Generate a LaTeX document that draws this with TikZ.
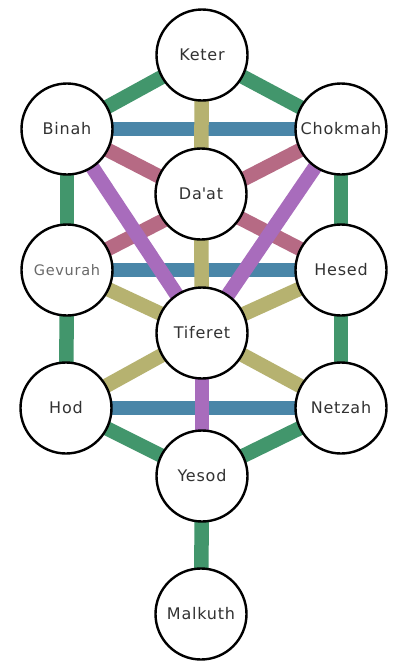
\documentclass[tikz,border=0pt]{standalone}
\usepackage{fontspec}
\setmainfont{DejaVu Sans}[LetterSpace=5]
\usetikzlibrary{backgrounds}
\definecolor{pgreen}{RGB}{66,150,108}
\definecolor{pblue}{RGB}{74,134,168}
\definecolor{polive}{RGB}{182,178,112}
\definecolor{ppink}{RGB}{182,106,132}
\definecolor{ppurple}{RGB}{168,108,188}
\definecolor{ptext}{RGB}{50,50,50}
\definecolor{plight}{RGB}{105,105,105}
\tikzset{
  sephira/.style={circle, draw=black, line width=2.4pt, fill=white, minimum size=91pt, inner sep=0pt, text=ptext, font=\fontsize{16}{16}\selectfont},
  lighttext/.style={text=plight, font=\fontsize{14.5}{14.5}\selectfont},
  pathbase/.style={line width=14.5pt},
  gpath/.style={pathbase, draw=pgreen},
  bpath/.style={pathbase, draw=pblue},
  opath/.style={pathbase, draw=polive},
  kpath/.style={pathbase, draw=ppink},
  vpath/.style={pathbase, draw=ppurple},
}
\begin{document}
\begin{tikzpicture}[x=1pt,y=-1pt]
\useasboundingbox (0,0) rectangle (397,662);
\node[sephira] (keter) at (202,55) {Keter};
\node[sephira] (binah) at (67,129) {Binah};
\node[sephira] (chokmah) at (341,129) {Chokmah};
\node[sephira] (daat) at (201,194) {Da\textquotesingle at};
\node[sephira, lighttext] (gevurah) at (67,270) {Gevurah};
\node[sephira] (hesed) at (341,270) {Hesed};
\node[sephira] (tiferet) at (202,333) {Tiferet};
\node[sephira] (hod) at (66,408) {Hod};
\node[sephira] (netzah) at (341,408) {Netzah};
\node[sephira] (yesod) at (202,476) {Yesod};
\node[sephira] (malkuth) at (201,614) {Malkuth};
\begin{scope}[on background layer]
  \fill[white] (0,0) rectangle (397,662);
  \draw[bpath] (binah.center) -- (chokmah.center);
  \draw[bpath] (gevurah.center) -- (hesed.center);
  \draw[bpath] (hod.center) -- (netzah.center);
  \draw[gpath] (keter.center) -- (binah.center);
  \draw[gpath] (keter.center) -- (chokmah.center);
  \draw[gpath] (binah.center) -- (gevurah.center);
  \draw[gpath] (chokmah.center) -- (hesed.center);
  \draw[gpath] (gevurah.center) -- (hod.center);
  \draw[gpath] (hesed.center) -- (netzah.center);
  \draw[gpath] (hod.center) -- (yesod.center);
  \draw[gpath] (netzah.center) -- (yesod.center);
  \draw[gpath] (yesod.center) -- (malkuth.center);
  \draw[kpath] (binah.center) -- (hesed.center);
  \draw[kpath] (chokmah.center) -- (gevurah.center);
  \draw[opath] (keter.center) -- (daat.center);
  \draw[opath] (daat.center) -- (tiferet.center);
  \draw[opath] (gevurah.center) -- (tiferet.center);
  \draw[opath] (hesed.center) -- (tiferet.center);
  \draw[opath] (tiferet.center) -- (hod.center);
  \draw[opath] (tiferet.center) -- (netzah.center);
  \draw[vpath] (binah.center) -- (tiferet.center);
  \draw[vpath] (chokmah.center) -- (tiferet.center);
  \draw[vpath] (tiferet.center) -- (yesod.center);
\end{scope}
\end{tikzpicture}
\end{document}
